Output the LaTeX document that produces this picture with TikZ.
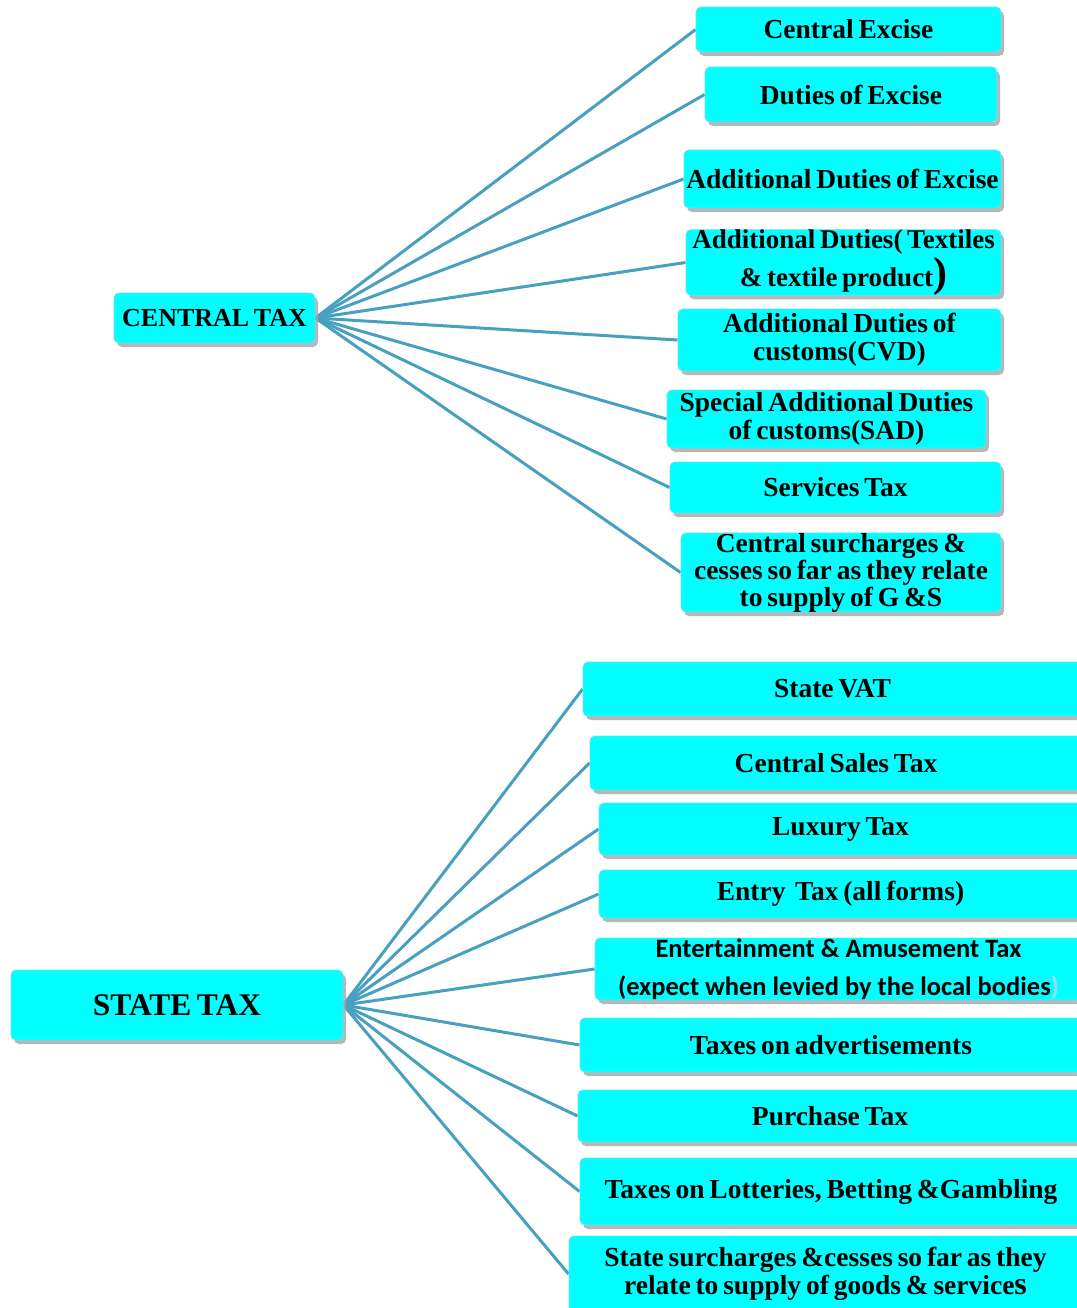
\documentclass[tikz,border=0pt]{standalone}
\usepackage{fontspec}
\setmainfont{Liberation Serif}[WordSpace=0.7]
\newfontfamily\calib{Carlito}
\usetikzlibrary{shadows}
\pgfdeclarelayer{background}
\pgfsetlayers{background,main}
\definecolor{boxcyan}{RGB}{0,255,255}
\definecolor{boxedge}{RGB}{110,225,235}
\definecolor{linkblue}{RGB}{72,160,192}
\tikzset{
  taxbox/.style={draw=boxedge, line width=0.8pt, fill=boxcyan, rounded corners=5pt,
    inner sep=0pt, align=center, font=\bfseries\fontsize{27.5}{28}\selectfont,
    drop shadow={shadow xshift=3pt, shadow yshift=-4pt, fill=black!35, opacity=0.8}},
  hubbox/.style={taxbox},
  link/.style={draw=linkblue, line width=3pt}
}
\begin{document}
\begin{tikzpicture}[x=1pt,y=-1pt]
\begin{pgfonlayer}{background}
\fill[white] (0,0) rectangle (1076,1308);
\end{pgfonlayer}
\useasboundingbox (0,0) rectangle (1076,1308);

% central
\node[hubbox, minimum width=201pt, minimum height=50pt, font=\bfseries\fontsize{26}{28}\selectfont] (CT) at (214.5,318) {CENTRAL TAX};
\node[taxbox, minimum width=305pt, minimum height=45pt] (c1) at (848.5,29.5) {Central Excise};
\node[taxbox, minimum width=292pt, minimum height=55pt] (c2) at (851,94.5) {Duties of Excise};
\node[taxbox, minimum width=317pt, minimum height=58pt] (c3) at (842.5,179) {Additional Duties of Excise};
\node[taxbox, minimum width=315pt, minimum height=65pt, font=\bfseries\fontsize{27}{38}\selectfont] (c4) at (843.5,262.5) {Additional Duties( Textiles\\ \& textile product{\fontsize{42}{38}\selectfont )}};
\node[taxbox, minimum width=323pt, minimum height=62pt] (c5) at (839.5,340) {Additional Duties of\\customs(CVD)};
\node[taxbox, minimum width=319pt, minimum height=58pt] (c6) at (826.5,419) {Special Additional Duties\\of customs(SAD)};
\node[taxbox, minimum width=331pt, minimum height=51pt] (c7) at (835.5,487.5) {Services Tax};
\node[taxbox, minimum width=320pt, minimum height=79pt, font=\bfseries\fontsize{27.5}{27}\selectfont] (c8) at (841,572.5) {Central surcharges \&\\cesses so far as they relate\\to supply of G \&S};

% state
\node[hubbox, minimum width=332pt, minimum height=70pt, font=\bfseries\fontsize{31.5}{32}\selectfont] (ST) at (177,1005) {STATE TAX};
\node[taxbox, minimum width=499pt, minimum height=54pt] (s1) at (832.5,689) {State VAT};
\node[taxbox, minimum width=492pt, minimum height=54pt] (s2) at (836,763) {Central Sales Tax};
\node[taxbox, minimum width=483pt, minimum height=52pt] (s3) at (840.5,829) {Luxury Tax};
\node[taxbox, minimum width=483pt, minimum height=48pt] (s4) at (840.5,894) {Entry\ \ Tax (all forms)};
\node[taxbox, minimum width=487pt, minimum height=62pt, font=\calib\bfseries\fontsize{26.5}{38}\selectfont] (s5) at (838.5,969) {Entertainment \& Amusement Tax\\(expect when levied by the local bodies{\color{white!60!cyan})}};
\node[taxbox, minimum width=502pt, minimum height=54pt] (s6) at (831,1045) {Taxes on advertisements};
\node[taxbox, minimum width=504pt, minimum height=52pt] (s7) at (830,1116) {Purchase Tax};
\node[taxbox, minimum width=502pt, minimum height=67pt] (s8) at (831,1191.5) {Taxes on Lotteries, Betting \&Gambling};
\node[taxbox, minimum width=513pt, minimum height=76pt] (s9) at (825.5,1274) {State surcharges \&cesses so far as they\\relate to supply of goods \& service{\fontsize{32}{28}\selectfont s}};

\begin{pgfonlayer}{background}
\foreach \t in {c1,c2,c3,c4,c5,c6,c7,c8} \draw[link] (CT.east) -- (\t.west);
\foreach \t in {s1,s2,s3,s4,s5,s6,s7,s8,s9} \draw[link] (ST.east) -- (\t.west);
\end{pgfonlayer}
\end{tikzpicture}
\end{document}
